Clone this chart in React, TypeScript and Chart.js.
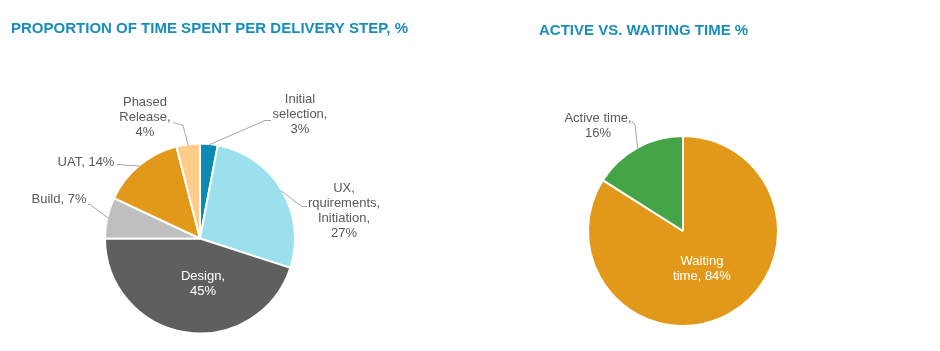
import React, { useEffect, useRef } from "react";
import { Chart, registerables } from "chart.js";

Chart.register(...registerables);

// ---------- data ----------
const stepCategories = [
  "Initial selection",
  "UX, rquirements, Initiation",
  "Design",
  "Build",
  "UAT",
  "Phased Release",
];
const stepValues = [3, 27, 45, 7, 14, 4];
const stepLabelLines = [
  ["Initial", "selection,", "{v}%"],
  ["UX,", "rquirements,", "Initiation,", "{v}%"],
  ["Design,", "{v}%"],
  ["Build, {v}%"],
  ["UAT, {v}%"],
  ["Phased", "Release,", "{v}%"],
];
const stepColors = ["#0A8BB4", "#9CDFED", "#5F5F5F", "#BFBFBF", "#E2991A", "#FFCC8A"];

const timeCategories = ["Waiting time", "Active time"];
const timeValues = [84, 16];
const timeLabelLines = [
  ["Waiting", "time, {v}%"],
  ["Active time,", "{v}%"],
];
const timeColors = ["#E2991A", "#43A545"];

const title1 = "PROPORTION OF TIME SPENT PER DELIVERY STEP, %";
const title2 = "ACTIVE VS. WAITING TIME %";

// ---------- label placement (style) ----------
type Spec = { dx: number; dy: number; color: string; leader?: number[][] };
const stepSpecs: Spec[] = [
  { dx: 100, dy: -124, color: "#595959", leader: [[65, -118], [71, -118]] },
  { dx: 144, dy: -28, color: "#595959", leader: [[102, -32], [107, -32]] },
  { dx: 3, dy: 45, color: "#FFFFFF" },
  { dx: -141, dy: -39, color: "#595959", leader: [[-110, -34], [-112, -34]] },
  { dx: -114, dy: -76, color: "#595959", leader: [[-83, -74]] },
  { dx: -55, dy: -121, color: "#595959", leader: [[-17, -113], [-27, -116]] },
];
const timeSpecs: Spec[] = [
  { dx: 19, dy: 38, color: "#FFFFFF" },
  { dx: -85, dy: -105, color: "#595959", leader: [[-48, -106], [-51, -110]] },
];

const LABEL_FONT = '13px "Liberation Sans", Arial, sans-serif';
const TITLE_FONT = 'bold 15px "Liberation Sans", Arial, sans-serif';

type TitleOpt = { text: string; x: number; baseline: number; width: number };

const sliceLabels = {
  id: "sliceLabels",
  afterDraw(chart: any, _args: any, opts: any) {
    const ctx = chart.ctx;
    const t: TitleOpt = opts.title;
    if (t) {
      ctx.save();
      ctx.font = TITLE_FONT;
      ctx.fillStyle = "#1A8DBB";
      ctx.textAlign = "left";
      ctx.textBaseline = "alphabetic";
      const natural = ctx.measureText(t.text).width;
      const n = t.text.length;
      if ("letterSpacing" in ctx && natural < t.width) {
        (ctx as any).letterSpacing = ((t.width - natural) / (n - 1)).toFixed(3) + "px";
      }
      ctx.fillText(t.text, t.x, t.baseline);
      ctx.restore();
    }
  },
  afterDatasetsDraw(chart: any, _args: any, opts: any) {
    const meta = chart.getDatasetMeta(0);
    const ctx = chart.ctx;
    const specs: Spec[] = opts.specs || [];
    const lines: string[][] = opts.lines || [];
    const values: number[] = chart.data.datasets[0].data;
    meta.data.forEach((arc: any, i: number) => {
      const s = specs[i];
      if (!s) return;
      const p = arc.getProps(["x", "y", "startAngle", "endAngle", "outerRadius"], true);
      const mid = (p.startAngle + p.endAngle) / 2;
      ctx.save();
      if (s.leader) {
        ctx.strokeStyle = "#A6A6A6";
        ctx.lineWidth = 1;
        ctx.beginPath();
        ctx.moveTo(p.x + Math.cos(mid) * (p.outerRadius - 1), p.y + Math.sin(mid) * (p.outerRadius - 1));
        s.leader.forEach(([dx, dy]) => ctx.lineTo(p.x + dx, p.y + dy));
        ctx.stroke();
      }
      ctx.font = LABEL_FONT;
      ctx.fillStyle = s.color;
      ctx.textAlign = "center";
      ctx.textBaseline = "middle";
      const txt = (lines[i] || []).map((t) => t.replace("{v}", String(values[i])));
      const lh = 15;
      const cy = p.y + s.dy - ((txt.length - 1) * lh) / 2;
      txt.forEach((t, k) => ctx.fillText(t, p.x + s.dx, cy + k * lh));
      ctx.restore();
    });
  },
};

function PieChart(props: {
  labels: string[];
  values: number[];
  colors: string[];
  lines: string[][];
  specs: Spec[];
  title: TitleOpt;
  padding: { left: number; right: number; top: number; bottom: number };
  left: number;
}) {
  const ref = useRef<HTMLCanvasElement | null>(null);
  useEffect(() => {
    if (!ref.current) return;
    const chart = new Chart(ref.current, {
      type: "pie",
      data: {
        labels: props.labels,
        datasets: [
          {
            data: props.values,
            backgroundColor: props.colors,
            borderColor: "#FFFFFF",
            borderWidth: 2,
            radius: 95,
          },
        ],
      },
      options: {
        responsive: false,
        animation: false,
        layout: { padding: props.padding },
        plugins: {
          legend: { display: false },
          tooltip: { enabled: false },
          title: { display: false },
          sliceLabels: { specs: props.specs, lines: props.lines, title: props.title },
        } as any,
      },
      plugins: [sliceLabels],
    });
    return () => chart.destroy();
  }, []);
  return (
    <canvas
      ref={ref}
      width={470}
      height={351}
      style={{ position: "absolute", left: props.left, top: 0, width: 470, height: 351 }}
    />
  );
}

export default function App() {
  return (
    <div style={{ position: "absolute", left: 0, top: 0, width: 940, height: 351, background: "#FFFFFF" }}>
      <PieChart
        labels={stepCategories}
        values={stepValues}
        colors={stepColors}
        lines={stepLabelLines}
        specs={stepSpecs}
        title={{ text: title1, x: 11, baseline: 32.5, width: 397 }}
        padding={{ left: 11, right: 81, top: 144, bottom: 18 }}
        left={0}
      />
      <PieChart
        labels={timeCategories}
        values={timeValues}
        colors={timeColors}
        lines={timeLabelLines}
        specs={timeSpecs}
        title={{ text: title2, x: 69, baseline: 35, width: 209 }}
        padding={{ left: 69, right: 113, top: 137, bottom: 26 }}
        left={470}
      />
    </div>
  );
}
